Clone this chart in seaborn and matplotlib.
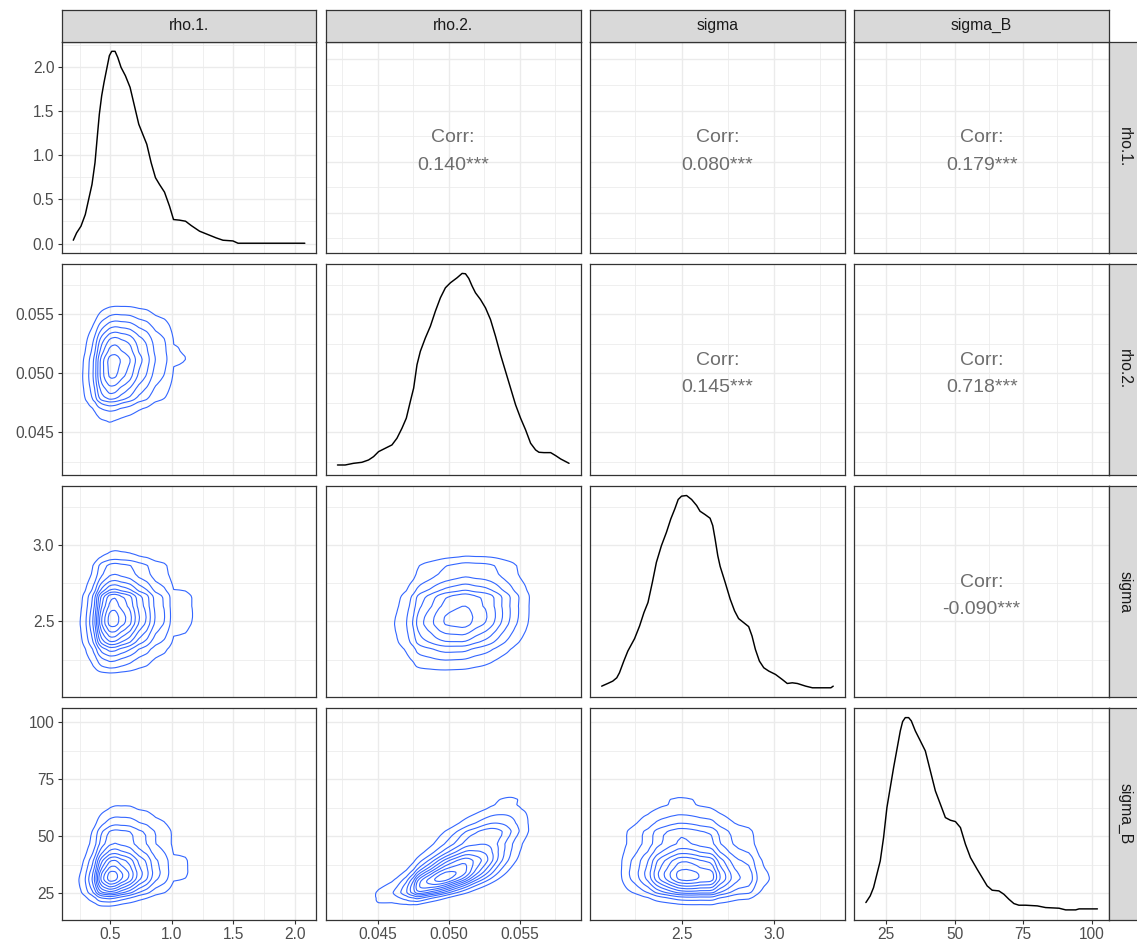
import numpy as np
import pandas as pd
import matplotlib
matplotlib.use("Agg")
import matplotlib.pyplot as plt
import seaborn as sns
from statistics import NormalDist

# ---- variables ------------------------------------------------------------
variables = ["rho.1.", "rho.2.", "sigma", "sigma_B"]

# marginal posterior densities (x, density); rho.2, sigma and sigma_B are
# drawn on their own hidden density scale, so they are kept relative to the peak
rho1_x = [0.1987, 0.2258, 0.2612, 0.2964, 0.3235, 0.3507, 0.3752, 0.3968, 0.4104,
          0.4294, 0.4484, 0.4701, 0.4919, 0.5109, 0.5380, 0.5597, 0.5869, 0.6221,
          0.6602, 0.6954, 0.7307, 0.7633, 0.7959, 0.8312, 0.8664, 0.8990, 0.9397,
          0.9805, 1.0130, 1.0619, 1.1107, 1.1569, 1.2248, 1.2926, 1.3605, 1.4148,
          1.4962, 1.5369, 1.7676, 2.0798]
rho1_d = [0.038, 0.121, 0.197, 0.329, 0.499, 0.669, 0.915, 1.255, 1.463, 1.671,
          1.822, 1.973, 2.125, 2.174, 2.174, 2.106, 1.992, 1.898, 1.766, 1.558,
          1.350, 1.236, 1.123, 0.915, 0.745, 0.669, 0.582, 0.423, 0.272, 0.265,
          0.253, 0.204, 0.140, 0.102, 0.064, 0.038, 0.030, 0.004, 0.004, 0.004]

rho2_x = [0.042185, 0.042725, 0.043312, 0.043899, 0.044368, 0.044720, 0.045073,
          0.045542, 0.046012, 0.046364, 0.046716, 0.047021, 0.047303, 0.047537,
          0.047772, 0.048007, 0.048359, 0.048711, 0.049063, 0.049415, 0.049767,
          0.050120, 0.050589, 0.050941, 0.051176, 0.051410, 0.051645, 0.051880,
          0.052232, 0.052584, 0.052936, 0.053288, 0.053640, 0.053993, 0.054345,
          0.054697, 0.055049, 0.055401, 0.055753, 0.056105, 0.056340, 0.056692,
          0.057162, 0.057514, 0.057866, 0.058452]
rho2_d = [0.0036, 0.0036, 0.0123, 0.0175, 0.0296, 0.0469, 0.0729, 0.0903, 0.1076,
          0.1423, 0.1942, 0.2462, 0.3328, 0.4021, 0.5234, 0.5927, 0.6620, 0.7226,
          0.8006, 0.8699, 0.9219, 0.9479, 0.9739, 0.9964, 0.9947, 0.9704, 0.9305,
          0.8959, 0.8612, 0.8179, 0.7573, 0.6706, 0.5754, 0.4887, 0.4021, 0.3155,
          0.2462, 0.1856, 0.1163, 0.0816, 0.0695, 0.0677, 0.0677, 0.0521, 0.0348,
          0.0123]

sigma_x = [2.0668, 2.0995, 2.1268, 2.1486, 2.1632, 2.1868, 2.2087, 2.2451, 2.2724,
           2.2960, 2.3178, 2.3415, 2.3634, 2.3907, 2.4180, 2.4416, 2.4634, 2.4816,
           2.5000, 2.5271, 2.5544, 2.5817, 2.5999, 2.6272, 2.6545, 2.6690, 2.6818,
           2.6963, 2.7091, 2.7364, 2.7636, 2.7873, 2.8091, 2.8364, 2.8637, 2.8819,
           2.9001, 2.9219, 2.9456, 2.9729, 3.0093, 3.0457, 3.0730, 3.1003, 3.1276,
           3.1730, 3.2094, 3.2640, 3.3095, 3.3222]
sigma_d = [0.0085, 0.0224, 0.0346, 0.0520, 0.0781, 0.1390, 0.1912, 0.2556, 0.3217,
           0.3913, 0.4435, 0.5479, 0.6523, 0.7392, 0.8088, 0.8784, 0.9306, 0.9793,
           0.9967, 1.0000, 0.9793, 0.9480, 0.9184, 0.9010, 0.8819, 0.8436, 0.7740,
           0.6870, 0.6314, 0.5479, 0.4609, 0.4000, 0.3600, 0.3391, 0.3182, 0.2695,
           0.1999, 0.1390, 0.1042, 0.0868, 0.0694, 0.0433, 0.0224, 0.0259, 0.0224,
           0.0085, 0.0000, 0.0000, 0.0000, 0.0085]

sigB_x = [17.68, 19.26, 20.48, 21.70, 22.92, 24.13, 25.35, 26.57, 27.79, 29.01,
          30.23, 31.08, 32.05, 33.27, 34.25, 35.71, 37.54, 39.36, 40.58, 41.80,
          43.02, 44.85, 46.67, 48.50, 50.33, 52.16, 53.98, 55.81, 58.25, 60.08,
          61.90, 63.73, 66.17, 67.99, 69.82, 71.65, 73.48, 75.91, 80.18, 83.22,
          88.10, 90.53, 94.19, 95.41, 102.11]
sigB_d = [0.0381, 0.0728, 0.1161, 0.1855, 0.2548, 0.3761, 0.5321, 0.6361, 0.7401,
          0.8355, 0.9308, 0.9794, 1.0000, 1.0000, 0.9828, 0.9308, 0.8789, 0.8268,
          0.7575, 0.6881, 0.6188, 0.5495, 0.4801, 0.4663, 0.4593, 0.4281, 0.3415,
          0.2721, 0.2115, 0.1681, 0.1248, 0.1023, 0.0988, 0.0815, 0.0555, 0.0329,
          0.0243, 0.0243, 0.0208, 0.0121, 0.0087, 0.0000, 0.0000, 0.0052, 0.0052]

dens_x = [rho1_x, rho2_x, sigma_x, sigB_x]
dens_y = [rho1_d, rho2_d, sigma_d, sigB_d]

# pairwise correlations (row, col) of the upper triangle
corr_pairs = [(0, 1), (0, 2), (0, 3), (1, 2), (1, 3), (2, 3)]
corr_values = [0.140, 0.080, 0.179, 0.145, 0.718, -0.090]
corr_stars = ["***", "***", "***", "***", "***", "***"]

# number of density contour levels in each lower panel (row, col)
contour_pairs = [(1, 0), (2, 0), (2, 1), (3, 0), (3, 1), (3, 2)]
contour_nlevels = [8, 11, 7, 11, 10, 10]

# axis breaks
major_breaks = [[0.5, 1.0, 1.5, 2.0],
                [0.045, 0.050, 0.055],
                [2.5, 3.0],
                [25, 50, 75, 100]]
minor_breaks = [[0.25, 0.75, 1.25, 1.75],
                [0.0425, 0.0475, 0.0525, 0.0575],
                [2.25, 2.75, 3.25],
                [37.5, 62.5, 87.5]]
break_labels = [["0.5", "1.0", "1.5", "2.0"],
                ["0.045", "0.050", "0.055"],
                ["2.5", "3.0"],
                ["25", "50", "75", "100"]]
dens_major = [0.0, 0.5, 1.0, 1.5, 2.0]
dens_minor = [0.25, 0.75, 1.25, 1.75, 2.25]
dens_labels = ["0.0", "0.5", "1.0", "1.5", "2.0"]

# ---- style ----------------------------------------------------------------
sns.set_theme(style="white")
plt.rcParams["font.family"] = ["Liberation Sans", "DejaVu Sans"]

GRID = "#EBEBEB"
BORDER = "#333333"
STRIP = "#D9D9D9"
TICKTXT = "#4D4D4D"
BLUE = "#3366FF"


def expand(lo, hi, f=0.05):
    r = hi - lo
    return lo - f * r, hi + f * r


limits = [expand(min(x), max(x)) for x in dens_x]


# ---- bivariate densities from marginals + correlation (Gaussian copula) ---
def marginal_on_grid(k, n=220):
    x = np.asarray(dens_x[k], float)
    d = np.asarray(dens_y[k], float)
    g = np.linspace(x.min(), x.max(), n)
    f = np.clip(np.interp(g, x, d), 1e-9, None)
    f /= np.trapezoid(f, g)
    F = np.concatenate([[0], np.cumsum((f[1:] + f[:-1]) / 2 * np.diff(g))])
    F = np.clip(F / F[-1], 1e-3, 1 - 1e-3)
    nd = NormalDist()
    z = np.array([nd.inv_cdf(float(p)) for p in F])
    return g, f, z


margins = [marginal_on_grid(k) for k in range(4)]


def joint_density(kx, ky, r):
    gx, fx, zx = margins[kx]
    gy, fy, zy = margins[ky]
    A, B = np.meshgrid(zx, zy)
    c = np.exp(-(r ** 2 * (A ** 2 + B ** 2) - 2 * r * A * B) / (2 * (1 - r ** 2)))
    c /= np.sqrt(1 - r ** 2)
    return gx, gy, fy[:, None] * fx[None, :] * c


corr_lookup = {p: v for p, v in zip(corr_pairs, corr_values)}
star_lookup = {p: s for p, s in zip(corr_pairs, corr_stars)}
nlev_lookup = {p: n for p, n in zip(contour_pairs, contour_nlevels)}

# ---- figure layout ----------------------------------------------------------
W, H = 1137, 946
fig = plt.figure(figsize=(W / 100, H / 100), dpi=100)
fig.patch.set_facecolor("white")

PW, PH = 254.7, 211.5
col_left = [61.7 + j * (PW + 9.5) for j in range(4)]
row_top = [41.7 + i * (PH + 10.6) for i in range(4)]
STRIP_T = 31.7


def rect(x0, y0, w, h):
    return [x0 / W, 1 - (y0 + h) / H, w / W, h / H]


def style_axes(ax, xmaj, xmin_, ymaj, ymin_):
    ax.set_xticks(xmaj)
    ax.set_xticks(xmin_, minor=True)
    ax.set_yticks(ymaj)
    ax.set_yticks(ymin_, minor=True)
    ax.grid(which="major", color=GRID, lw=1.0)
    ax.grid(which="minor", color=GRID, lw=0.55)
    ax.set_axisbelow(True)
    ax.tick_params(which="minor", length=0)
    ax.tick_params(which="major", length=3.1, width=0.8, color=BORDER,
                   labelsize=11.2, labelcolor=TICKTXT, pad=2.2,
                   bottom=False, left=False, labelbottom=False, labelleft=False,
                   right=False, top=False)
    for s in ax.spines.values():
        s.set_color(BORDER)
        s.set_linewidth(0.9)
    ax.set_xlabel("")
    ax.set_ylabel("")


for i in range(4):
    for j in range(4):
        ax = fig.add_axes(rect(col_left[j], row_top[i], PW, PH))
        ax.set_facecolor("white")
        ax.set_xlim(limits[j])
        if i == 0 and j == 0:
            ax.set_ylim(expand(0.0, max(rho1_d)))
            style_axes(ax, major_breaks[j], minor_breaks[j], dens_major, dens_minor)
            ymaj_lab = dens_labels
        else:
            ax.set_ylim(limits[i])
            style_axes(ax, major_breaks[j], minor_breaks[j], major_breaks[i], minor_breaks[i])
            ymaj_lab = break_labels[i]

        if i == j:
            frame = pd.DataFrame({"x": dens_x[i], "density": dens_y[i]})
            if i == 0:
                target = ax
            else:
                target = ax.twinx()
                target.set_ylim(expand(0.0, max(dens_y[i])))
                target.set_yticks([])
                for s in target.spines.values():
                    s.set_visible(False)
                target.grid(False)
                ax.tick_params(which="major", left=False, labelleft=False)
            sns.lineplot(data=frame, x="x", y="density", ax=target,
                         color="black", lw=1.05, estimator=None)
            target.set_xlabel("")
            target.set_ylabel("")
            ax.set_xlim(limits[j])
        elif i > j:
            gx, gy, Z = joint_density(j, i, corr_lookup[(j, i)])
            n = nlev_lookup[(i, j)]
            levels = Z.max() * np.arange(1, n + 1) / (n + 0.6)
            ax.contour(gx, gy, Z, levels=levels, colors=BLUE, linewidths=0.8)
        else:
            r = corr_lookup[(i, j)]
            ax.text(0.5, 0.48, f"Corr:\n{r:.3f}{star_lookup[(i, j)]}",
                    transform=ax.transAxes, ha="center", va="center",
                    fontsize=14, color="#6E6E6E", linespacing=1.8,
                    multialignment="center")

        if j == 0:
            ax.tick_params(which="major", left=True, labelleft=True)
            ax.set_yticklabels(ymaj_lab)
        if i == 3:
            ax.tick_params(which="major", bottom=True, labelbottom=True)
            ax.set_xticklabels(break_labels[j])

# ---- facet strips -----------------------------------------------------------
for j, name in enumerate(variables):
    sa = fig.add_axes(rect(col_left[j], row_top[0] - STRIP_T, PW, STRIP_T))
    sa.set_facecolor(STRIP)
    sa.set_xticks([]); sa.set_yticks([])
    for s in sa.spines.values():
        s.set_color(BORDER); s.set_linewidth(0.9)
    sa.text(0.5, 0.5, name, transform=sa.transAxes, ha="center", va="center",
            fontsize=11.3, color="#1A1A1A")

for i, name in enumerate(variables):
    sa = fig.add_axes(rect(col_left[3] + PW, row_top[i], STRIP_T, PH))
    sa.set_facecolor(STRIP)
    sa.set_xticks([]); sa.set_yticks([])
    for s in sa.spines.values():
        s.set_color(BORDER); s.set_linewidth(0.9)
    sa.text(0.5, 0.5, name, transform=sa.transAxes, ha="center", va="center",
            rotation=270, fontsize=11.3, color="#1A1A1A")

fig.savefig("out.png", dpi=100, facecolor="white")
